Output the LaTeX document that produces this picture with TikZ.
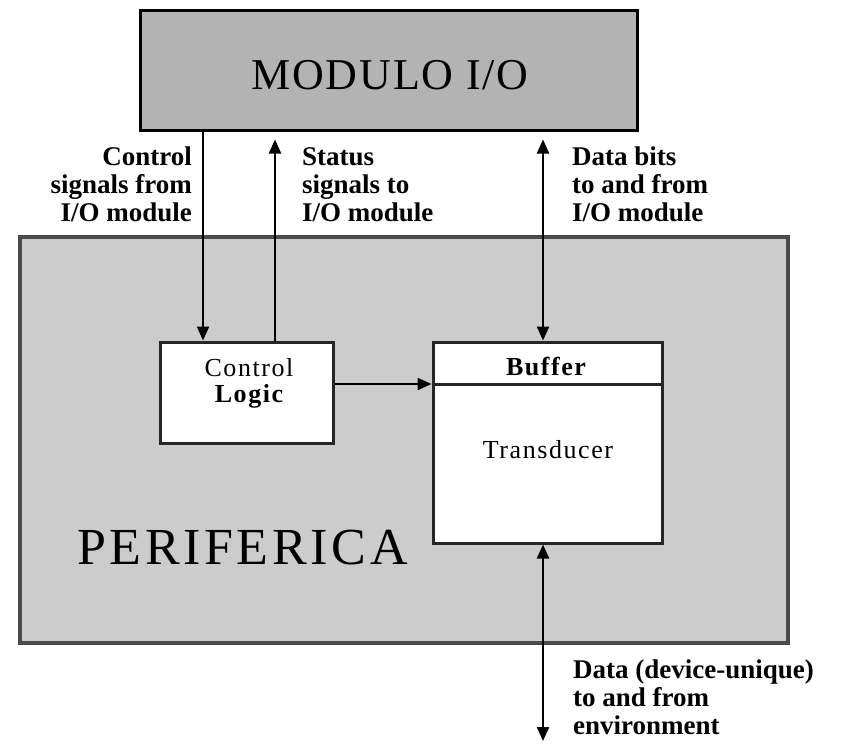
\documentclass[tikz,border=0pt]{standalone}
\usepackage{fontspec}
\setmainfont{Liberation Serif}
\newfontfamily\titlefont[LetterSpace=4]{Liberation Serif}
\newfontfamily\perfont[LetterSpace=7]{Liberation Serif}
\newfontfamily\innerfont[LetterSpace=6]{Liberation Serif}
\usetikzlibrary{arrows.meta}
\definecolor{modfill}{HTML}{B3B3B3}
\definecolor{perfill}{HTML}{CCCCCC}
\definecolor{perdraw}{HTML}{4A4A4A}
\begin{document}
\begin{tikzpicture}[x=1pt,y=-1pt,
  modbox/.style={draw=black, fill=modfill, line width=3pt, inner sep=0pt},
  perbox/.style={draw=perdraw, fill=perfill, line width=3.5pt, inner sep=0pt},
  whitebox/.style={draw=black!85, fill=white, line width=3pt, inner sep=0pt},
  arr/.style={line width=2.2pt, -{Triangle[length=14pt,width=12pt]}},
  darr/.style={line width=2.2pt, {Triangle[length=14pt,width=12pt]}-{Triangle[length=14pt,width=12pt]}},
  lbl/.style={inner sep=0pt, font=\bfseries\fontsize{27}{28}\selectfont},
  intext/.style={inner sep=0pt, anchor=base, font=\innerfont\fontsize{26}{28}\selectfont},
]
\useasboundingbox (0,0) rectangle (844,744);
% boxes
\node[modbox, minimum width=497pt, minimum height=120pt] (modio) at (388.5,70) {};
\node[anchor=base, inner sep=0pt, font=\titlefont\fontsize{44}{44}\selectfont] (modtxt) at (390,89) {MODULO I/O};
\node[perbox, minimum width=768pt, minimum height=406pt] (per) at (404,440) {};
\node[anchor=base west, inner sep=0pt, font=\perfont\fontsize{52}{52}\selectfont] (pertxt) at (77,564) {PERIFERICA};
\node[whitebox, minimum width=173pt, minimum height=101pt] (ctl) at (246.5,392.5) {};
\node[intext] (ctltxt1) at (249,376) {Control};
\node[intext, font=\innerfont\bfseries\fontsize{26}{28}\selectfont] (ctltxt2) at (249,402) {Logic};
\node[whitebox, minimum width=229pt, minimum height=201pt] (buf) at (547.5,442.5) {};
\coordinate (divy) at (0,384);
\draw[line width=3pt, black!85] (buf.west |- divy) -- (buf.east |- divy);
\node[intext, font=\innerfont\bfseries\fontsize{26}{28}\selectfont] (buftxt) at (546,375) {Buffer};
\node[intext] (trtxt) at (548,458) {Transducer};
% connectors
\coordinate (cx) at (203,0);
\coordinate (sx) at (275,0);
\coordinate (dx) at (543,0);
\coordinate (envend) at (543,741);
\draw[arr] (modio.south -| cx) -- (ctl.north -| cx);
\draw[arr, shorten >=8pt] (ctl.north -| sx) -- (modio.south -| sx);
\draw[darr, shorten <=8pt] (modio.south -| dx) -- (buf.north -| dx);
\draw[arr] (ctl.east |- divy) -- (buf.west |- divy);
\draw[darr] (buf.south -| dx) -- (envend);
% labels (base anchor = baseline of the last line)
\node[lbl, align=right, anchor=base east] (ctllbl) at (192,221) {Control\\signals from\\I/O module};
\node[lbl, align=left, anchor=base west] (stlbl) at (302,221) {Status\\signals to\\I/O module};
\node[lbl, align=left, anchor=base west] (dblbl) at (572,221) {Data bits\\to and from\\I/O module};
\node[lbl, align=left, anchor=base west] (envlbl) at (573,734) {Data (device-unique)\\to and from\\environment};
\end{tikzpicture}
\end{document}
